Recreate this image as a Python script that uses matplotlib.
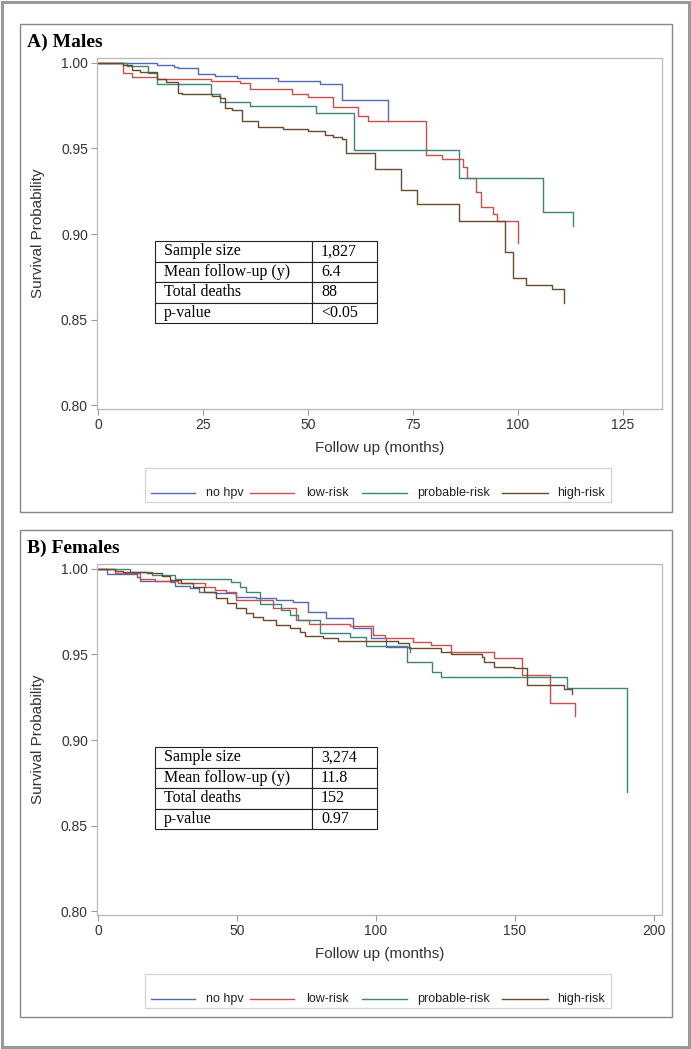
import matplotlib
matplotlib.use("Agg")
import matplotlib.pyplot as plt
from matplotlib.patches import Rectangle
from matplotlib.lines import Line2D

# Dados
grupos = ["no hpv", "low-risk", "probable-risk", "high-risk"]
cores = ["#5468b4", "#c5514a", "#3d8577", "#6a4a2c"]

# A) Homens - tempos (meses) e sobrevida
a_nohpv_t = [0, 14, 18, 19, 23.8, 27.9, 33, 42.9, 52.9, 58, 69]
a_nohpv_s = [1, .9988, .9978, .9969, .9936, .9926, .9914, .9895, .9875, .9784, .966]
a_low_t = [0, 6, 8, 14, 27, 33.8, 36.2, 46.1, 50, 56, 62, 64.2, 78, 82, 86.8, 87.9, 89.9, 91.1, 94, 95, 100]
a_low_s = [1, .994, .992, .9906, .9895, .988, .9846, .9817, .9803, .9745, .9692, .966, .946, .9437, .939,
           .933, .9248, .9156, .9115, .9076, .8946]
a_prob_t = [0, 7, 12, 14, 27, 29, 36.2, 52, 61, 86, 106, 113]
a_prob_s = [1, .998, .994, .9875, .9817, .9774, .975, .971, .949, .933, .913, .9049]
a_high_t = [0, 6, 8, 10, 14, 16.3, 19.1, 19.9, 27.1, 29, 30.2, 32, 34.2, 38.2, 44, 50, 54, 56, 58, 59,
            66, 72.1, 75.9, 86, 97, 98.9, 102, 108, 111]
a_high_s = [1, .9988, .9959, .9946, .9905, .9887, .9827, .9817, .9807, .9797, .9735, .9725, .966, .9624,
            .9615, .9604, .9579, .9565, .9555, .9472, .9378, .9257, .9177, .9076, .8897, .874, .87,
            .8676, .8598]

# B) Mulheres
b_nohpv_t = [0, 3.1, 13.9, 15, 25.9, 27.6, 33, 36.5, 42, 49.8, 57, 64, 70, 75.5, 82, 91.7, 98.3, 103.7, 112.4]
b_nohpv_s = [1, .9969, .9955, .9932, .9926, .99, .9887, .9867, .9862, .9838, .9828, .9819, .9805, .975,
             .9711, .9653, .9595, .9546, .9517]
b_low_t = [0, 6, 15, 20.5, 28.7, 38.4, 42, 46, 49.8, 63, 71.3, 76, 90.5, 98.8, 103.4, 113.2, 119.8, 127,
           142.5, 152.7, 162.7, 171.6]
b_low_s = [1, .9975, .994, .9932, .9916, .9897, .9877, .9867, .9819, .977, .9702, .9676, .9667, .9614,
           .9595, .9575, .9556, .9517, .9482, .938, .9218, .914]
b_prob_t = [0, 11.5, 19.3, 27.8, 48, 51, 53.4, 58.2, 66, 69, 72, 79.7, 90.5, 96.5, 111, 120, 123.4, 168.6, 190.4]
b_prob_s = [1, .9984, .9965, .994, .9926, .9897, .9863, .9795, .976, .9731, .9702, .9628, .9601, .955,
            .9458, .94, .937, .9306, .8698]
b_high_t = [0, 6, 9.1, 17.5, 23, 25.9, 29.7, 34.2, 38, 42.6, 46.3, 49.8, 53.4, 55.7, 59.3, 64, 69, 72.5,
            74.3, 80.9, 86.3, 107.8, 112, 123.4, 127, 138, 139, 142.5, 149.7, 154.5, 167.7, 170.4]
b_high_s = [1, .9988, .9984, .9975, .996, .9936, .9916, .9897, .9867, .9829, .98, .977, .9745, .972,
            .9702, .9672, .9653, .9634, .9608, .9595, .9579, .9565, .9536, .9517, .9503, .9488, .9458,
            .9429, .9419, .9322, .9298, .927]

tabela_rotulos = ["Sample size", "Mean follow-up (y)", "Total deaths", "p-value"]
tabela_a = ["1,827", "6.4", "88", "<0.05"]
tabela_b = ["3,274", "11.8", "152", "0.97"]

W, H = 691, 1049
fig = plt.figure(figsize=(W / 100, H / 100), dpi=100)
fig.patch.set_facecolor("white")


def fx(x):
    return x / W


def fy(y):
    return 1 - y / H


def retangulo(x0, y0, x1, y1, cor, lw):
    fig.add_artist(Rectangle((fx(x0), fy(y1)), fx(x1) - fx(x0), fy(y0) - fy(y1),
                             transform=fig.transFigure, fill=False, edgecolor=cor, linewidth=lw))


# Bordas
retangulo(2, 2, 689, 1047, "#999999", 2.2)
retangulo(20, 24, 672, 512, "#888888", 1.0)
retangulo(20, 530, 672, 1017, "#888888", 1.0)


def painel(dy, titulo, series, xlim, xticks, tabela):
    fig.text(fx(27), fy(42 + dy), titulo, fontsize=14, fontweight="bold",
             family="Liberation Serif", va="center", ha="left")
    ax = fig.add_axes([fx(97), fy(409 + dy), fx(662) - fx(97), 351 / H])
    for (t, s), cor in zip(series, cores):
        ax.step(t, s, where="post", color=cor, linewidth=1.0)
    ax.set_xlim(*xlim)
    ax.set_ylim(0.7977, 1.0029)
    ax.set_xticks(xticks)
    ax.set_yticks([0.80, 0.85, 0.90, 0.95, 1.00])
    ax.set_yticklabels(["0.80", "0.85", "0.90", "0.95", "1.00"])
    for sp in ax.spines.values():
        sp.set_color("#b8b8b8")
        sp.set_linewidth(0.9)
    ax.tick_params(colors="#999999", labelcolor="#333333", labelsize=10, length=4, width=0.8, pad=2.5)
    for lab in ax.get_xticklabels() + ax.get_yticklabels():
        lab.set_family("Liberation Sans")
    ax.set_xlabel("Follow up (months)", fontsize=11, family="Liberation Sans", color="#333333")
    ax.set_ylabel("Survival Probability", fontsize=11, family="Liberation Sans", color="#333333")
    ax.xaxis.set_label_coords(0.5, -(448 - 409) / 351)
    ax.xaxis.label.set_verticalalignment("center")
    ax.yaxis.set_label_coords((38 - 97) / 565, 0.5)
    ax.yaxis.label.set_verticalalignment("center")

    # Tabela
    linhas = [[r, v] for r, v in zip(tabela_rotulos, tabela)]
    x0, x1, xs = 155, 377, 312
    y0, y1 = 241 + dy, 323 + dy
    axw, axh = 565, 351
    tb = ax.table(cellText=linhas, cellLoc="left",
                  colWidths=[(xs - x0) / (x1 - x0), (x1 - xs) / (x1 - x0)],
                  bbox=[(x0 - 97) / axw, (409 + dy - y1) / axh, (x1 - x0) / axw, (y1 - y0) / axh])
    tb.auto_set_font_size(False)
    for (r, c), cell in tb.get_celld().items():
        cell.set_linewidth(0.8)
        cell.set_edgecolor("#222222")
        cell.PAD = 9 / (xs - x0) if c == 0 else 9 / (x1 - xs)
        txt = cell.get_text()
        txt.set_fontsize(11.5)
        txt.set_family("Liberation Serif")

    # Legenda
    retangulo(145, 468 + dy, 611, 502 + dy, "#d4d4d4", 0.9)
    ly = fy(493 + dy)
    segs = [(151, 195, 206), (250, 294, 306), (362, 407, 417), (502, 548, 557)]
    for (a, b, tx), nome, cor in zip(segs, grupos, cores):
        fig.add_artist(Line2D([fx(a), fx(b)], [ly, ly], transform=fig.transFigure,
                              color=cor, linewidth=1.0))
        fig.text(fx(tx), ly, nome, fontsize=9, family="Liberation Sans", color="#222222",
                 va="center", ha="left")
    return ax


painel(0, "A) Males",
       [(a_nohpv_t, a_nohpv_s), (a_low_t, a_low_s), (a_prob_t, a_prob_s), (a_high_t, a_high_s)],
       (-0.24, 134.3), [0, 25, 50, 75, 100, 125], tabela_a)
painel(506, "B) Females",
       [(b_nohpv_t, b_nohpv_s), (b_low_t, b_low_s), (b_prob_t, b_prob_s), (b_high_t, b_high_s)],
       (-0.36, 202.9), [0, 50, 100, 150, 200], tabela_b)

fig.savefig("out.png", dpi=100)
